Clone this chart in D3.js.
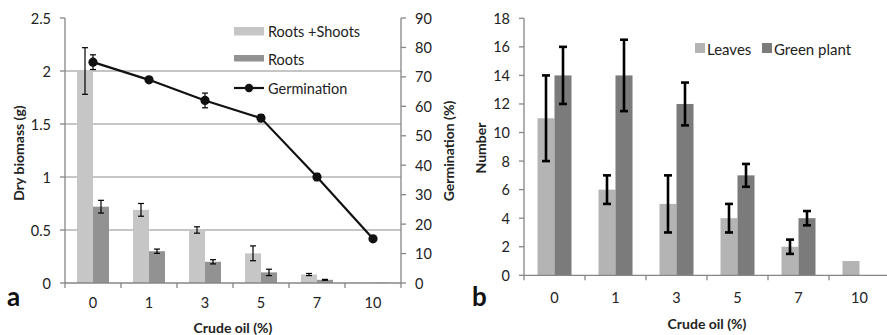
<!DOCTYPE html>
<html>
<head>
<meta charset="utf-8">
<script src="https://cdn.jsdelivr.net/npm/d3@7"></script>
<style>
  html, body { margin: 0; padding: 0; background: #fff; }
  svg { display: block; font-family: Lato, "Open Sans", sans-serif; }
</style>
</head>
<body>
<svg id="chart" width="887" height="335"></svg>
<script>
// Crude oil concentration categories (shared by both panels)
const oilLevels = ["0", "1", "3", "5", "7", "10"];

// Panel a: dry biomass (g) and germination (%)
const rootsShoots    = [2.0, 0.69, 0.50, 0.28, 0.08, 0.003];
const rootsShootsErr = [0.22, 0.06, 0.03, 0.07, 0.01, 0];
const roots          = [0.72, 0.30, 0.20, 0.10, 0.03, 0.003];
const rootsErr       = [0.06, 0.02, 0.02, 0.03, 0.004, 0];
const germination    = [75, 69, 62, 56, 36, 15];
const germinationErr = [2.5, 0, 2.5, 1.2, 1.2, 0];
const biomassTicks   = [0, 0.5, 1, 1.5, 2, 2.5];
const germTicks      = [0, 10, 20, 30, 40, 50, 60, 70, 80, 90];

// Panel b: number of leaves and green plants
const leaves        = [11, 6, 5, 4, 2, 1];
const leavesErr     = [3, 1, 2, 1, 0.5, 0];
const greenPlant    = [14, 14, 12, 7, 4, 0];
const greenPlantErr = [2, 2.5, 1.5, 0.8, 0.5, 0];
const numberTicks   = [0, 2, 4, 6, 8, 10, 12, 14, 16, 18];

const svg = d3.select("#chart");
const axisGray = "#868686";
const tickFont = 14.5;
const titleFont = 14;

function drawCategoryAxis(g, x, y0, tickLen, labelY) {
  const [r0, r1] = x.range();
  g.append("line").attr("x1", r0).attr("x2", r1).attr("y1", y0).attr("y2", y0)
    .attr("stroke", axisGray).attr("stroke-width", 1.3);
  for (let i = 0; i <= x.domain().length; i++) {
    const px = r0 + i * x.step();
    g.append("line").attr("x1", px).attr("x2", px).attr("y1", y0).attr("y2", y0 + tickLen)
      .attr("stroke", axisGray).attr("stroke-width", 1.3);
  }
  g.selectAll(null).data(x.domain()).enter().append("text")
    .attr("x", d => x(d) + x.bandwidth() / 2).attr("y", labelY)
    .attr("text-anchor", "middle").attr("dominant-baseline", "central")
    .attr("font-size", tickFont).attr("fill", "#222").text(d => d);
}

function drawValueAxis(g, y, ticks, x0, side, fmt) {
  const dir = side === "left" ? -1 : 1;
  g.append("line").attr("x1", x0).attr("x2", x0).attr("y1", y.range()[0]).attr("y2", y.range()[1])
    .attr("stroke", axisGray).attr("stroke-width", 1.3);
  ticks.forEach(t => {
    g.append("line").attr("x1", x0).attr("x2", x0 + dir * 5).attr("y1", y(t)).attr("y2", y(t))
      .attr("stroke", axisGray).attr("stroke-width", 1.3);
    g.append("text").attr("x", x0 + dir * 14).attr("y", y(t))
      .attr("text-anchor", side === "left" ? "end" : "start")
      .attr("dominant-baseline", "central")
      .attr("font-size", tickFont).attr("fill", "#222").text(fmt(t));
  });
}

function errorBar(g, cx, yScale, v, e, capW, width) {
  if (!e) return;
  const top = yScale(v + e), bot = yScale(v - e);
  g.append("line").attr("x1", cx).attr("x2", cx).attr("y1", top).attr("y2", bot)
    .attr("stroke", "#000").attr("stroke-width", width);
  [top, bot].forEach(yy => g.append("line")
    .attr("x1", cx - capW / 2).attr("x2", cx + capW / 2).attr("y1", yy).attr("y2", yy)
    .attr("stroke", "#000").attr("stroke-width", width));
}

function rotatedTitle(x, y, text) {
  svg.append("text").attr("transform", `translate(${x},${y}) rotate(-90)`)
    .attr("text-anchor", "middle").attr("dominant-baseline", "central")
    .attr("font-size", titleFont).attr("font-weight", "bold").attr("fill", "#222").text(text);
}

// ---------------- Panel a ----------------
const ga = svg.append("g");
const xa = d3.scaleBand().domain(oilLevels).range([65, 401]).paddingInner(0.4286).paddingOuter(0.2143);
const xa1 = d3.scaleBand().domain(["rs", "r"]).range([0, xa.bandwidth()]);
const ya = d3.scaleLinear().domain([0, 2.5]).range([283, 18]);
const yg = d3.scaleLinear().domain([0, 90]).range([283, 18]);

// horizontal gridlines
biomassTicks.filter(t => t > 0 && t < 2.5).forEach(t => {
  ga.append("line").attr("x1", 65).attr("x2", 401).attr("y1", ya(t)).attr("y2", ya(t))
    .attr("stroke", "#8c8c8c").attr("stroke-width", 1);
});

const lightA = "#c6c6c6", darkA = "#929292";
oilLevels.forEach((c, i) => {
  const bx = xa(c);
  ga.append("rect").attr("x", bx + xa1("rs")).attr("width", xa1.bandwidth())
    .attr("y", ya(rootsShoots[i])).attr("height", ya(0) - ya(rootsShoots[i])).attr("fill", lightA);
  ga.append("rect").attr("x", bx + xa1("r")).attr("width", xa1.bandwidth())
    .attr("y", ya(roots[i])).attr("height", ya(0) - ya(roots[i])).attr("fill", darkA);
});
oilLevels.forEach((c, i) => {
  const bx = xa(c);
  errorBar(ga, bx + xa1("rs") + xa1.bandwidth() / 2, ya, rootsShoots[i], rootsShootsErr[i], 6, 1.2);
  errorBar(ga, bx + xa1("r") + xa1.bandwidth() / 2, ya, roots[i], rootsErr[i], 6, 1.2);
});

drawCategoryAxis(ga, xa, 283, 5, 302);
drawValueAxis(ga, ya, biomassTicks, 65, "left", d => String(d));
drawValueAxis(ga, yg, germTicks, 401, "right", d => String(d));

// germination line with markers
const germLine = d3.line().x((d, i) => xa(oilLevels[i]) + xa.bandwidth() / 2).y(d => yg(d));
ga.append("path").datum(germination).attr("d", germLine)
  .attr("fill", "none").attr("stroke", "#111").attr("stroke-width", 2.2);
germination.forEach((v, i) => {
  const cx = xa(oilLevels[i]) + xa.bandwidth() / 2;
  errorBar(ga, cx, yg, v, germinationErr[i], 6, 1.2);
  ga.append("circle").attr("cx", cx).attr("cy", yg(v)).attr("r", 4.6).attr("fill", "#111");
});

// legend a
const legA = ga.append("g");
legA.append("rect").attr("x", 234).attr("y", 27).attr("width", 30).attr("height", 8.5).attr("fill", lightA);
legA.append("text").attr("x", 268).attr("y", 31).attr("dominant-baseline", "central")
  .attr("font-size", 14.5).attr("fill", "#222").text("Roots +Shoots");
legA.append("rect").attr("x", 234).attr("y", 55).attr("width", 30).attr("height", 6.5).attr("fill", darkA);
legA.append("text").attr("x", 268).attr("y", 59).attr("dominant-baseline", "central")
  .attr("font-size", 14.5).attr("fill", "#222").text("Roots");
legA.append("line").attr("x1", 234).attr("x2", 264).attr("y1", 88).attr("y2", 88)
  .attr("stroke", "#111").attr("stroke-width", 2.2);
legA.append("circle").attr("cx", 249).attr("cy", 88).attr("r", 4.2).attr("fill", "#111");
legA.append("text").attr("x", 268).attr("y", 88).attr("dominant-baseline", "central")
  .attr("font-size", 14.5).attr("fill", "#222").text("Germination");

rotatedTitle(18, 153, "Dry biomass (g)");
rotatedTitle(448, 151, "Germination (%)");
svg.append("text").attr("x", 233).attr("y", 327).attr("text-anchor", "middle")
  .attr("dominant-baseline", "central").attr("font-size", titleFont).attr("font-weight", "bold")
  .attr("fill", "#222").text("Crude oil (%)");
svg.append("text").attr("x", 7).attr("y", 306).attr("font-size", 26).attr("font-weight", "bold")
  .attr("fill", "#111").text("a");

// ---------------- Panel b ----------------
const gb = svg.append("g");
const xb = d3.scaleBand().domain(oilLevels).range([524, 890]).paddingInner(0.4426).paddingOuter(0.2213);
const xb1 = d3.scaleBand().domain(["l", "g"]).range([0, xb.bandwidth()]);
const yb = d3.scaleLinear().domain([0, 18]).range([275.3, 18.3]);

const lightB = "#b4b4b4", darkB = "#7b7b7b";
oilLevels.forEach((c, i) => {
  const bx = xb(c);
  gb.append("rect").attr("x", bx + xb1("l")).attr("width", xb1.bandwidth())
    .attr("y", yb(leaves[i])).attr("height", yb(0) - yb(leaves[i])).attr("fill", lightB);
  gb.append("rect").attr("x", bx + xb1("g")).attr("width", xb1.bandwidth())
    .attr("y", yb(greenPlant[i])).attr("height", yb(0) - yb(greenPlant[i])).attr("fill", darkB);
});
oilLevels.forEach((c, i) => {
  const bx = xb(c);
  errorBar(gb, bx + xb1("l") + xb1.bandwidth() / 2, yb, leaves[i], leavesErr[i], 8, 2.6);
  errorBar(gb, bx + xb1("g") + xb1.bandwidth() / 2, yb, greenPlant[i], greenPlantErr[i], 8, 2.6);
});

drawCategoryAxis(gb, xb, 275.3, 5, 297);
drawValueAxis(gb, yb, numberTicks, 524, "left", d => String(d));

// legend b
const legB = gb.append("g");
legB.append("rect").attr("x", 695).attr("y", 43).attr("width", 10).attr("height", 10).attr("fill", lightB);
legB.append("text").attr("x", 707).attr("y", 48.5).attr("dominant-baseline", "central")
  .attr("font-size", 15).attr("fill", "#222").text("Leaves");
legB.append("rect").attr("x", 762).attr("y", 43).attr("width", 10).attr("height", 10).attr("fill", darkB);
legB.append("text").attr("x", 774).attr("y", 48.5).attr("dominant-baseline", "central")
  .attr("font-size", 15).attr("fill", "#222").text("Green plant");

rotatedTitle(480, 148, "Number");
svg.append("text").attr("x", 707).attr("y", 323).attr("text-anchor", "middle")
  .attr("dominant-baseline", "central").attr("font-size", titleFont).attr("font-weight", "bold")
  .attr("fill", "#222").text("Crude oil (%)");
svg.append("text").attr("x", 472).attr("y", 306).attr("font-size", 26).attr("font-weight", "bold")
  .attr("fill", "#111").text("b");
</script>
</body>
</html>
